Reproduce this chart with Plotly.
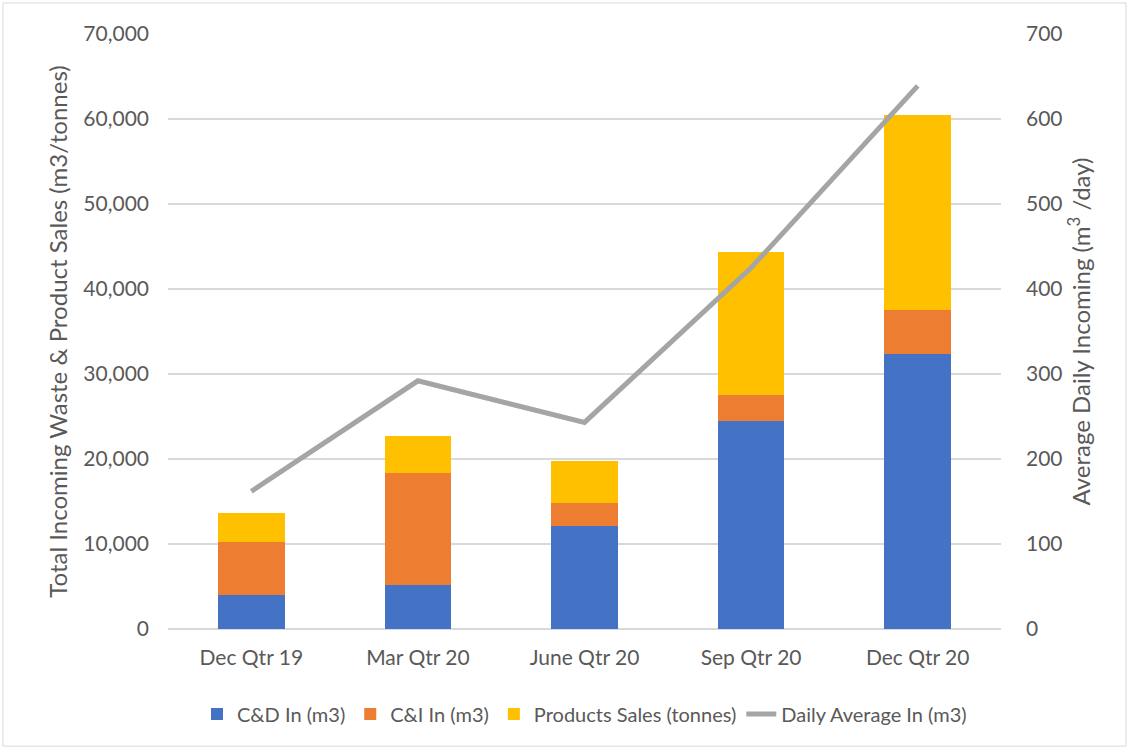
import plotly.graph_objects as go

quarters = ["Dec Qtr 19", "Mar Qtr 20", "June Qtr 20", "Sep Qtr 20", "Dec Qtr 20"]
cd_in = [4050, 5180, 12130, 24460, 32370]
ci_in = [6130, 13190, 2710, 3100, 5140]
product_sales = [3450, 4360, 4910, 16810, 22920]
daily_avg = [162, 292, 243, 425, 639]

FONT = "Lato"
TXT = "#595959"

fig = go.Figure()
fig.add_trace(go.Bar(x=quarters, y=cd_in, name="C&D In (m3)", marker=dict(color="#4472c4", line=dict(width=0))))
fig.add_trace(go.Bar(x=quarters, y=ci_in, name="C&I In (m3)", marker=dict(color="#ed7d31", line=dict(width=0))))
fig.add_trace(go.Bar(x=quarters, y=product_sales, name="Products Sales (tonnes)", marker=dict(color="#ffc000", line=dict(width=0))))
fig.add_trace(go.Scatter(x=quarters, y=daily_avg, name="Daily Average In (m3)", yaxis="y2",
                         mode="lines", line=dict(color="#a5a5a5", width=5)))

fig.update_layout(
    width=1129, height=749,
    barmode="stack", bargap=0.6,
    paper_bgcolor="white", plot_bgcolor="white",
    margin=dict(l=168, r=128, t=34, b=120, autoexpand=False),
    font=dict(family=FONT, color=TXT, size=20),
    xaxis=dict(showgrid=False, showline=False, ticks="", tickfont=dict(size=21, color=TXT), ticklabelstandoff=14),
    yaxis=dict(range=[0, 70000], dtick=10000, tickformat=",", showgrid=True, gridcolor="#d9d9d9", gridwidth=1.5,
               zeroline=True, zerolinecolor="#d9d9d9", zerolinewidth=1.5, showline=False,
               tickfont=dict(size=21, color=TXT), ticklabelstandoff=18,
               title=dict(text="Total Incoming Waste & Product Sales (m3/tonnes)", font=dict(size=24, color=TXT), standoff=8)),
    yaxis2=dict(range=[0, 700], dtick=100, overlaying="y", side="right", showgrid=False, zeroline=False,
                tickfont=dict(size=21, color=TXT), ticklabelstandoff=24,
                title=dict(text="Average Daily Incoming (m<sup>3</sup> /day)", font=dict(size=24, color=TXT), standoff=8)),
    legend=dict(orientation="h", x=0.5, xanchor="center", y=-0.143, yanchor="middle",
                font=dict(size=20, color=TXT), traceorder="normal"),
    shapes=[dict(type="rect", xref="paper", yref="paper",
                 x0=-165/833, x1=1 + 125/833, y0=-117/594.3, y1=1 + 31/594.3,
                 line=dict(color="#d9d9d9", width=1), fillcolor="rgba(0,0,0,0)", layer="below")],
)

fig.write_html("out.html", config={"displayModeBar": False},
               post_script="document.body.style.margin='0px';")
